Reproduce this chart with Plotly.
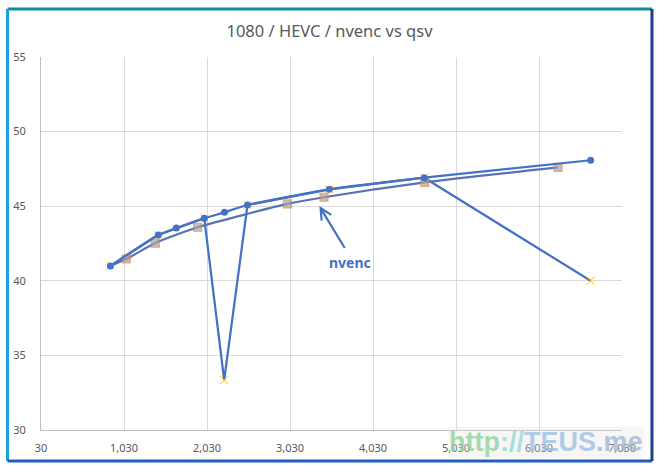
import plotly.graph_objects as go

title = "1080 / HEVC / nvenc vs qsv"

# qsv (upper curve, blue circles)
qsv_x = [866, 1443, 1660, 1997, 2241, 2518, 3504, 4647, 6652]
qsv_y = [41.0, 43.07, 43.54, 44.19, 44.59, 45.08, 46.13, 46.91, 48.08]

# nvenc (lower curve, squares)
nvenc_x = [866, 1058, 1407, 1916, 2999, 3440, 4655, 6259]
nvenc_y = [41.0, 41.46, 42.53, 43.59, 45.15, 45.6, 46.6, 47.6]

# qsv with outliers (yellow x markers)
out_x = [866, 1443, 1997, 2237, 2518, 3504, 4647, 6652]
out_y = [41.0, 43.07, 44.19, 33.35, 45.08, 46.13, 46.91, 40.0]

x_ticks = [30, 1030, 2030, 3030, 4030, 5030, 6030, 7030]
y_ticks = [30, 35, 40, 45, 50, 55]

BLUE = "#4472C4"
ORANGE = "#ED7D31"
GRAY = "#A5A5A5"
YELLOW = "#FFC000"

fig = go.Figure()
fig.add_trace(go.Scatter(
    x=out_x, y=out_y, mode="lines+markers",
    line=dict(color=BLUE, width=2.25),
    marker=dict(symbol="x-thin", size=8, line=dict(color=YELLOW, width=1), color=YELLOW),
    showlegend=False, hoverinfo="skip"))
fig.add_trace(go.Scatter(
    x=nvenc_x, y=nvenc_y, mode="lines+markers",
    line=dict(color="#5673B4", width=2.25, shape="spline", smoothing=0.6),
    marker=dict(symbol="square", size=[0] + [8] * (len(nvenc_x) - 1), color=GRAY,
                line=dict(color=ORANGE, width=1.2)),
    showlegend=False, name="nvenc"))
fig.add_trace(go.Scatter(
    x=qsv_x, y=qsv_y, mode="lines+markers",
    line=dict(color=BLUE, width=2.25, shape="spline", smoothing=0.6),
    marker=dict(symbol="circle", size=7, color=BLUE),
    showlegend=False, name="qsv"))

axis_font = dict(family="Noto Sans", size=11, color="#595959")

fig.update_xaxes(
    range=[30, 7030], tickvals=x_ticks, tickformat=",d",
    showgrid=True, gridcolor="#D9D9D9", gridwidth=1,
    showline=True, linecolor="#BFBFBF", linewidth=1,
    zeroline=False, ticks="", tickfont=axis_font, ticklabelstandoff=8)
fig.update_yaxes(
    range=[30, 55], tickvals=y_ticks,
    showgrid=True, gridcolor="#D9D9D9", gridwidth=1,
    showline=True, linecolor="#BFBFBF", linewidth=1,
    zeroline=False, ticks="", tickfont=axis_font, ticklabelstandoff=12)

fig.add_annotation(
    x=3753, y=41.26, text="<b>nvenc</b>", showarrow=False,
    font=dict(family="Noto Sans", size=14, color=BLUE))
fig.add_annotation(
    x=3384, y=45.01, ax=3700, ay=42.1, axref="x", ayref="y",
    text="", showarrow=True, arrowhead=5, arrowsize=1, arrowwidth=2.2,
    arrowcolor=BLUE)

# watermark
fig.add_annotation(
    xref="paper", yref="paper", x=(546 - 40.5) / 581.5, y=(430 - 442) / 373,
    xanchor="center", yanchor="middle",
    text=("<span style='color:#8fd19a'>http</span><span style='color:#8fd9d0'>://</span>"
          "<span style='color:#9cc0e0'>TEUS</span><span style='color:#a3b6d0'>.me</span>"),
    showarrow=False, opacity=0.8, bgcolor="rgba(225,225,225,0.35)", borderpad=0,
    font=dict(family="Liberation Sans", size=27, color="#9cc6ea", weight="bold"))

# outer frame
frame = [
    (7, 9, 652, 9, "#0E8FA0"),
    (7, 9, 7, 461, "#1BA1E2"),
    (7, 461, 652, 461, "#1F5FBF"),
    (652, 9, 652, 461, "#1A3F8C"),
]
W, H = 659, 470
for x0, y0, x1, y1, c in frame:
    fig.add_shape(type="line", xref="paper", yref="paper",
                  x0=(x0 - 40.5) / (622 - 40.5), x1=(x1 - 40.5) / (622 - 40.5),
                  y0=(430 - y0) / (430 - 57), y1=(430 - y1) / (430 - 57),
                  line=dict(color=c, width=3))

fig.update_layout(
    width=W, height=H, autosize=False,
    margin=dict(l=40.5, r=37, t=57, b=40),
    paper_bgcolor="white", plot_bgcolor="white",
    title=dict(text=title, x=0.5, xanchor="center", y=1 - 31 / H, yanchor="middle",
               font=dict(family="Noto Sans", size=16.5, color="#595959")),
)

fig.write_html("out.html", config={"displayModeBar": False},
               post_script="document.body.style.margin='0';document.body.style.padding='0';")
